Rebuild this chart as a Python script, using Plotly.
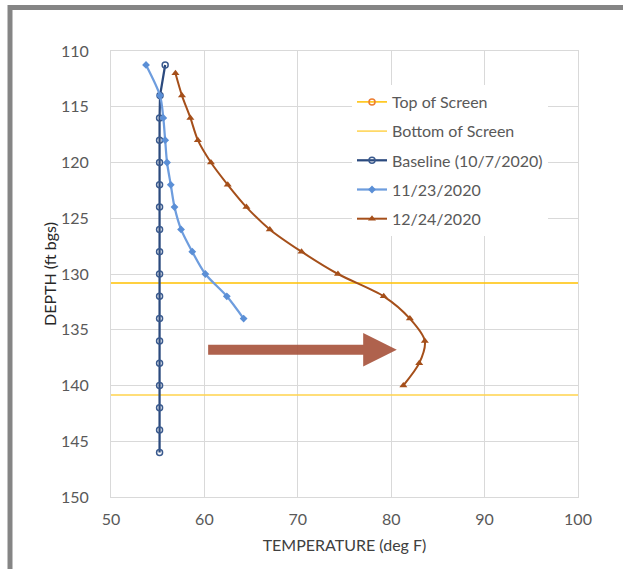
import plotly.graph_objects as go

# ---- data ----
baseline_depth = [111.25, 114, 116, 118, 120, 122, 124, 126, 128, 130, 132, 134, 136, 138, 140, 142, 144, 146]
baseline_temp = [55.8, 55.25, 55.2, 55.2, 55.2, 55.2, 55.2, 55.2, 55.2, 55.2, 55.2, 55.2, 55.2, 55.2, 55.2, 55.2, 55.2, 55.2]

nov_depth = [111.25, 114, 116, 118, 120, 122, 124, 126, 128, 130, 132, 134]
nov_temp = [53.75, 55.25, 55.6, 55.8, 56.0, 56.4, 56.8, 57.5, 58.7, 60.1, 62.4, 64.2]

dec_depth = [112, 114, 116, 118, 120, 122, 124, 126, 128, 130, 132, 134, 136, 138, 140]
dec_temp = [56.9, 57.6, 58.5, 59.3, 60.7, 62.5, 64.5, 67.0, 70.4, 74.3, 79.2, 82.0, 83.6, 83.0, 81.3]

top_screen_depth = 130.8
bottom_screen_depth = 140.85
screen_x = [0, 200]

# arrow (data coordinates)
arrow_x = [60.4, 77.0, 80.6]   # shaft start, head start, tip
arrow_y = [136.8, 0.45, 1.5]   # center depth, half shaft height, half head height

x_ticks = [50, 60, 70, 80, 90, 100]
y_ticks = [110, 115, 120, 125, 130, 135, 140, 145, 150]

W, H = 623, 569
ML, MR, MT, MB = 111, 45, 51, 72

FONT = "Lato, 'Open Sans', sans-serif"

fig = go.Figure()

fig.add_trace(go.Scatter(
    x=screen_x, y=[top_screen_depth] * 2, name="Top of Screen",
    mode="lines+markers", line=dict(color="#FFC000", width=1.5),
    marker=dict(symbol="circle-open", size=6, color="#ED7D31", line=dict(width=1.5)),
    legendgroup="a"))
fig.add_trace(go.Scatter(
    x=screen_x, y=[bottom_screen_depth] * 2, name="Bottom of Screen",
    mode="lines", line=dict(color="#FFD34D", width=1.5), legendgroup="b"))
fig.add_trace(go.Scatter(
    x=baseline_temp, y=baseline_depth, name="Baseline (10/7/2020)",
    mode="lines+markers", line=dict(color="#2B4A7E", width=2.25),
    marker=dict(symbol="circle-open", size=6, color="#3A5A8E", line=dict(width=1.5)),
    legendgroup="c"))
fig.add_trace(go.Scatter(
    x=nov_temp, y=nov_depth, name="11/23/2020",
    mode="lines+markers", line=dict(color="#6E9DDE", width=2.25, shape="spline", smoothing=0.8),
    marker=dict(symbol="diamond", size=6, color="#5B8FD6"),
    legendgroup="d"))
fig.add_trace(go.Scatter(
    x=dec_temp, y=dec_depth, name="12/24/2020",
    mode="lines+markers", line=dict(color="#A54F1A", width=2, shape="spline", smoothing=0.8),
    marker=dict(symbol="triangle-up", size=7, color="#A54F1A"),
    legendgroup="e"))

# block arrow
cy, hs, hh = arrow_y
x0, xh, xt = arrow_x
path = (f"M {x0},{cy - hs} L {xh},{cy - hs} L {xh},{cy - hh} L {xt},{cy} "
        f"L {xh},{cy + hh} L {xh},{cy + hs} L {x0},{cy + hs} Z")
shapes = [dict(type="path", path=path, xref="x", yref="y",
               fillcolor="#A8553E", opacity=0.92, line=dict(width=0), layer="above")]

# outer gray frame lines (paper coords from pixels)
pw, ph = W - ML - MR, H - MT - MB
def px(xp): return (xp - ML) / pw
def py(yp): return 1 - (yp - MT) / ph
shapes.append(dict(type="line", xref="paper", yref="paper",
                   x0=px(8), x1=px(W + 5), y0=py(7.5), y1=py(7.5),
                   line=dict(color="#858585", width=5)))
shapes.append(dict(type="line", xref="paper", yref="paper",
                   x0=px(10), x1=px(10), y0=py(5), y1=py(H + 5),
                   line=dict(color="#858585", width=5)))

fig.update_layout(
    width=W, height=H,
    margin=dict(l=ML, r=MR, t=MT, b=MB),
    paper_bgcolor="white", plot_bgcolor="white",
    font=dict(family=FONT, color="#595959", size=16),
    showlegend=True,
    legend=dict(x=px(352), y=py(85), xanchor="left", yanchor="top",
                bgcolor="white", font=dict(size=16, color="#595959", family=FONT),
                traceorder="grouped", tracegroupgap=5.4, itemwidth=30),
    shapes=shapes,
    xaxis=dict(range=[50, 100], tickvals=x_ticks, showgrid=True, gridcolor="#D9D9D9",
               gridwidth=1, zeroline=False, showline=True, linecolor="#D9D9D9", mirror=True,
               ticks="", ticklabelstandoff=8,
               tickfont=dict(size=16, color="#595959"),
               title=dict(text="TEMPERATURE (deg F)", font=dict(size=16, color="#404040"),
                          standoff=12)),
    yaxis=dict(range=[150, 110], tickvals=y_ticks, showgrid=True, gridcolor="#D9D9D9",
               gridwidth=1, zeroline=False, showline=True, linecolor="#D9D9D9", mirror=True,
               ticks="", ticklabelstandoff=18,
               tickfont=dict(size=16, color="#595959"),
               title=dict(text="DEPTH (ft bgs)", font=dict(size=16, color="#262626"),
                          standoff=0)),
)

fig.write_html("out.html")
